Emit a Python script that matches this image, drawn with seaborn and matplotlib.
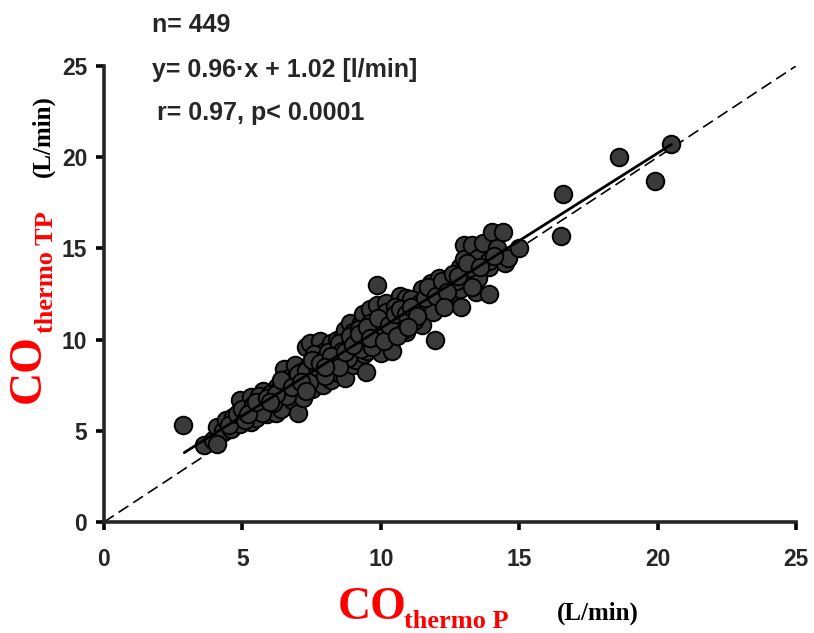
import numpy as np
import pandas as pd
import matplotlib
matplotlib.use("Agg")
import matplotlib.pyplot as plt
import seaborn as sns

# ---- data ----
co_p = [2.85, 3.6, 3.95, 4.1, 4.3, 4.1, 4.4, 4.65, 4.6, 4.9, 4.9, 5.2, 5.3, 5.3, 5.6, 5.5,
        5.75, 5.8, 5.9, 6.1, 6.0, 6.25, 6.2, 6.3, 6.5, 6.5, 6.4, 6.7, 6.7, 6.8, 6.9, 7.0,
        7.0, 7.1, 7.2, 7.2, 7.3, 7.4, 7.45, 7.5, 7.55, 7.6, 7.7, 7.8, 7.8, 7.9, 8.0, 8.05,
        8.1, 8.2, 8.2, 8.3, 8.4, 8.4, 8.4, 8.5, 8.6, 8.6, 8.7, 8.7, 8.8, 8.9, 8.9, 9.0,
        9.0, 9.1, 9.2, 9.3, 9.35, 9.4, 9.45, 9.5, 9.5, 9.6, 9.7, 9.8, 9.85, 9.85, 9.85, 10.0,
        10.0, 10.1, 10.1, 10.2, 10.3, 10.3, 10.4, 10.5, 10.6, 10.6, 10.7, 10.8, 10.9, 10.9, 11.05, 11.2,
        11.3, 11.4, 11.5, 11.5, 11.7, 11.8, 11.9, 11.95, 12.1, 12.1, 12.2, 12.4, 12.6, 12.85, 12.85, 12.9,
        13.0, 13.0, 13.1, 13.3, 13.45, 13.5, 13.5, 13.7, 13.9, 13.9, 13.9, 14.0, 14.2, 14.4, 14.5, 14.6,
        15.0, 16.5, 16.6, 18.6, 19.9, 20.5,
        4.5, 4.8, 5.0, 5.1, 5.4, 5.6, 5.7, 6.0, 6.1, 6.3, 6.6, 6.6, 6.9, 7.0, 7.3, 7.4,
        7.6, 7.7, 7.9, 8.0, 8.1, 8.3, 8.5, 8.6, 8.8, 8.9, 9.1, 9.2, 9.3, 9.4, 9.6, 9.7,
        9.9, 10.0, 10.2, 10.4, 10.5, 10.7, 10.8, 11.0, 11.1, 11.2, 11.4, 11.6, 11.8, 11.9, 12.0, 12.3,
        12.5, 12.7, 13.2, 13.3,
        5.2, 5.5, 5.9, 6.2, 6.4, 6.8, 7.1, 7.5, 7.8, 8.2, 8.5, 8.7, 9.0, 9.2, 9.5, 9.6,
        9.9, 10.1, 10.3, 10.5, 10.7, 10.9, 11.1, 11.3, 11.6, 11.7, 12.0, 12.2, 12.4, 12.6, 12.8, 13.1,
        13.6, 14.1, 8.0, 7.3, 6.0, 10.6, 11.0, 12.3]
co_tp = [5.3, 4.2, 4.5, 5.2, 5.0, 4.3, 5.6, 5.75, 5.1, 6.7, 5.4, 6.1, 6.85, 5.5, 6.3, 5.7,
         7.2, 6.6, 5.9, 6.85, 6.2, 7.4, 6.0, 6.6, 8.4, 7.0, 6.2, 7.9, 7.2, 6.7, 8.6, 6.0,
         7.5, 8.2, 7.9, 6.8, 9.6, 8.6, 9.8, 7.3, 9.0, 8.0, 7.8, 9.9, 8.3, 7.5, 9.4, 9.0,
         8.6, 9.8, 7.8, 8.2, 10.0, 9.6, 8.2, 9.1, 10.1, 8.9, 10.5, 7.9, 9.6, 10.9, 9.5, 10.4,
         8.6, 8.9, 9.9, 10.9, 11.4, 9.2, 8.2, 10.35, 9.4, 11.7, 10.0, 10.8, 11.9, 9.8, 13.0, 9.25,
         11.2, 10.5, 11.1, 12.0, 11.5, 10.2, 9.4, 10.8, 11.3, 10.9, 12.4, 11.9, 12.3, 10.4, 10.9, 11.7,
         12.05, 11.1, 12.8, 10.8, 12.4, 13.1, 12.2, 10.0, 13.4, 12.7, 12.0, 13.0, 12.5, 12.8, 14.0, 11.8,
         15.2, 14.4, 13.3, 15.2, 12.6, 14.5, 13.4, 15.3, 14.0, 12.5, 14.3, 15.9, 15.0, 15.9, 14.2, 14.5,
         15.0, 15.7, 18.0, 20.0, 18.7, 20.7,
         5.3, 5.9, 6.2, 5.6, 6.4, 6.9, 6.0, 7.0, 6.5, 7.2, 7.6, 6.9, 7.9, 8.1, 8.3, 7.7,
         9.2, 8.5, 8.9, 8.0, 9.3, 8.7, 9.8, 9.4, 9.0, 10.2, 9.8, 10.6, 9.5, 10.2, 10.9, 9.6,
         10.4, 10.8, 11.5, 11.0, 11.8, 11.2, 10.5, 11.5, 12.2, 11.0, 12.0, 11.7, 12.6, 11.5, 12.9, 12.3,
         13.3, 13.2, 13.9, 12.9,
         5.9, 6.6, 6.8, 7.0, 7.8, 7.4, 7.7, 8.9, 8.7, 9.1, 8.5, 9.3, 9.7, 10.3, 10.7, 10.1,
         11.2, 9.9, 10.8, 11.4, 11.7, 11.4, 11.8, 11.3, 12.3, 12.9, 12.4, 13.2, 12.6, 13.6, 13.5, 14.2,
         14.0, 14.6, 8.5, 7.2, 6.6, 10.2, 10.7, 11.8]

identity_x = [0, 25]
identity_y = [0, 25]
slope = 0.96
intercept = 1.02
fit_x = [2.9, 20.5]

axis_ticks = [0, 5, 10, 15, 20, 25]
stats_lines = ["n= 449", "y= 0.96\u00b7x + 1.02 [l/min]", "r= 0.97, p< 0.0001"]

# ---- figure ----
sns.set_style("ticks")
W, H = 814, 633
fig = plt.figure(figsize=(W / 100, H / 100), dpi=100)
ax = fig.add_axes([104 / W, 1 - 522 / H, (796 - 104) / W, (522 - 66) / H])

df = pd.DataFrame({"p": co_p, "tp": co_tp})
fit_df = pd.DataFrame({"x": fit_x, "y": [slope * v + intercept for v in fit_x]})
id_df = pd.DataFrame({"x": identity_x, "y": identity_y})

sns.lineplot(data=id_df, x="x", y="y", ax=ax, color="black", lw=1.2,
             dashes=False, linestyle=(0, (7, 3.5)), zorder=1)
sns.scatterplot(data=df, x="p", y="tp", ax=ax, s=160, color="#3a3a3a",
                edgecolor="black", linewidth=1.4, zorder=2)
sns.lineplot(data=fit_df, x="x", y="y", ax=ax, color="black", lw=2.0, zorder=3)

ax.set_xlim(0, 25)
ax.set_ylim(0, 25)
ax.set_xticks(axis_ticks)
ax.set_yticks(axis_ticks)
ax.set_xlabel("")
ax.set_ylabel("")
sns.despine(ax=ax)
for sp in ("left", "bottom"):
    ax.spines[sp].set_linewidth(2.6)
ax.tick_params(axis="both", direction="out", length=6, width=2.6, color="black")
ax.tick_params(axis="x", pad=13)
ax.tick_params(axis="y", pad=6)
for lab in ax.get_xticklabels() + ax.get_yticklabels():
    lab.set_fontfamily("Liberation Sans")
    lab.set_fontweight("bold")
    lab.set_fontsize(16.5)

# stats text
sans = "Liberation Sans"
baselines = [32, 77, 120]
lefts = [152, 152, 157]
for txt, b, l in zip(stats_lines, baselines, lefts):
    fig.text(l / W, 1 - b / H, txt, fontfamily=sans, fontweight="bold",
             fontsize=18, va="baseline", ha="left")

serif = "Liberation Serif"
# x label
fig.text(338 / W, 1 - 619 / H, "CO", color="red", fontfamily=serif,
         fontweight="bold", fontsize=33, va="baseline", ha="left")
fig.text(404 / W, 1 - 628 / H, "thermo P", color="red", fontfamily=serif,
         fontweight="bold", fontsize=19, va="baseline", ha="left")
fig.text(557 / W, 1 - 620 / H, "(L/min)", color="black", fontfamily=serif,
         fontweight="bold", fontsize=18, va="baseline", ha="left")
# y label
fig.text(50 / W, 1 - 403 / H, "CO", color="red", fontfamily=serif,
         fontweight="bold", fontsize=33, rotation=90, va="bottom", ha="right")
fig.text(58 / W, 1 - 333 / H, "thermo TP", color="red", fontfamily=serif,
         fontweight="bold", fontsize=19, rotation=90, va="bottom", ha="right")
fig.text(55 / W, 1 - 177 / H, "(L/min)", color="black", fontfamily=serif,
         fontweight="bold", fontsize=18, rotation=90, va="bottom", ha="right")

fig.savefig("out.png", dpi=100)
